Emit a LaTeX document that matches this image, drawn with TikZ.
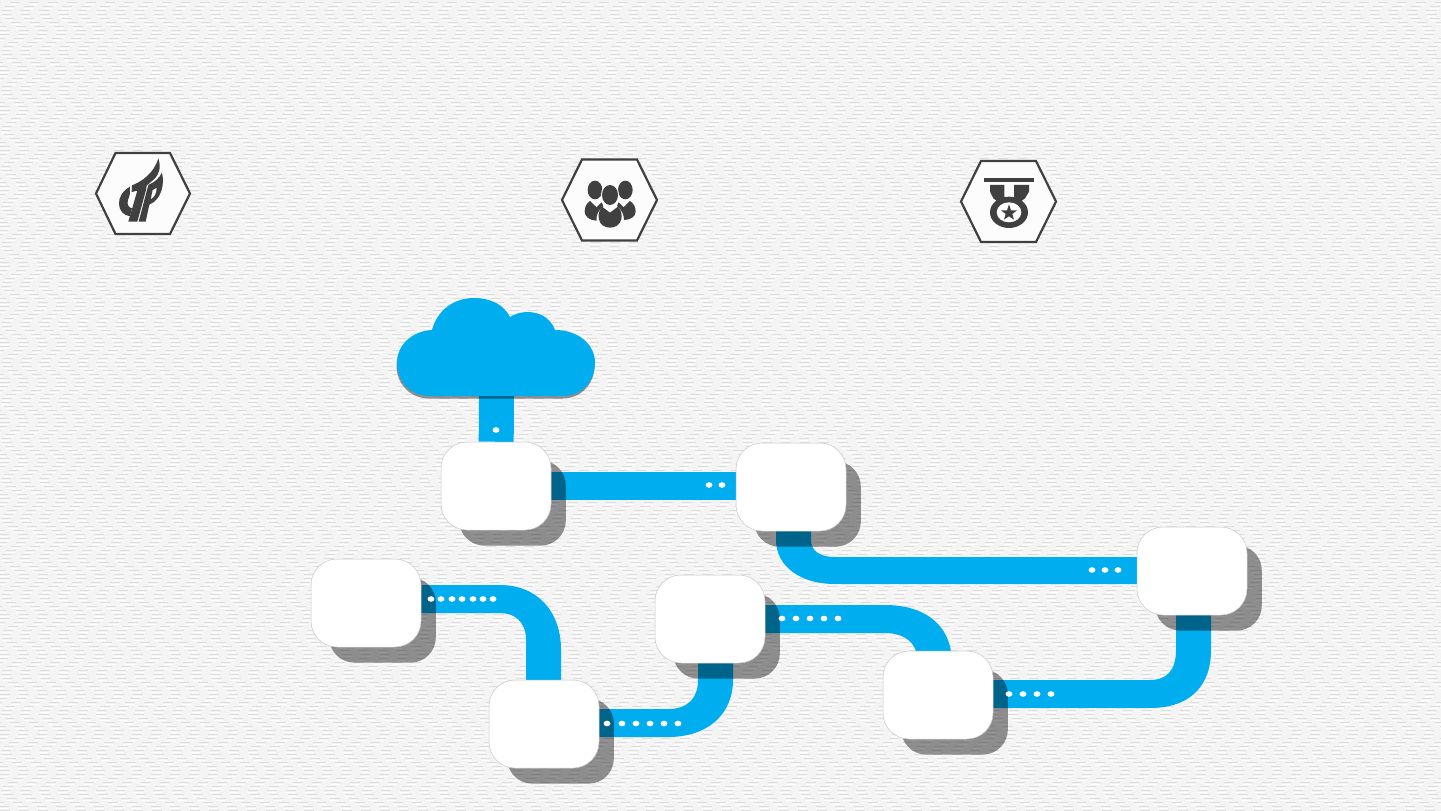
\documentclass[tikz,border=0pt]{standalone}
\usetikzlibrary{calc,shadows}
\pgfdeclarelayer{under}
\pgfsetlayers{under,main}
\definecolor{skyb}{HTML}{00AEEF}
\definecolor{inkd}{HTML}{404040}
\definecolor{paper}{HTML}{F4F4F4}
\definecolor{weave}{HTML}{DEDEDE}
\tikzset{
  x=1pt,y=-1pt,
  card/.style={draw=black!22,line width=.5pt,fill=white,rounded corners=26pt,minimum width=110pt,minimum height=88pt,inner sep=0pt,
    general shadow={shadow xshift=17pt,shadow yshift=-17.5pt,shadow scale=.97,fill=black,opacity=.42}},
  link/.style={draw=skyb,line width=28pt},
  linkfill/.style={fill=skyb},
  hexa/.style={draw=inkd,line width=2.2pt,fill=white!70!paper,line join=miter},
  ink/.style={fill=inkd},
  pip/.style={fill=white},
}
\newcommand{\pips}[2]{\foreach \px in {#2}{\fill[pip] (\px,#1) ellipse (3.4 and 2.8);}}
\begin{document}
\begin{tikzpicture}
\useasboundingbox (0,0) rectangle (1441,811);
\begin{pgfonlayer}{under}
\fill[paper] (0,0) rectangle (1441,811);
\foreach \r in {0,...,202}{
  \pgfmathsetmacro{\yy}{2+4*\r}
  \pgfmathsetmacro{\ph}{9+9*sin(\r*37)}
  \draw[weave,line width=.8pt,dash pattern=on 10pt off 9pt,dash phase=\ph pt] (0,\yy) -- (1441,\yy);
  \draw[white,line width=.8pt,dash pattern=on 9pt off 10pt,dash phase=\ph pt] (0,\yy+2) -- (1441,\yy+2);
}
\end{pgfonlayer}

% cards
\node[card] (A) at (496,486) {};
\node[card] (B) at (791,487) {};
\node[card] (C) at (1192,571) {};
\node[card] (D) at (366,603) {};
\node[card] (E) at (544,724) {};
\node[card] (F) at (710,619) {};
\node[card] (G) at (938,695) {};
\coordinate (cloud) at (496.5,380);

\begin{pgfonlayer}{under}
\draw[link,line width=35pt] (cloud) -- (A);
\draw[link] (A.east) -- (B.west |- A.east);
% B to C
\fill[linkfill] ($(B.south)+(-15,-6)$) -- (776,540) .. controls (776,566) and (800,584) .. (835,584)
  -- ($(C.west)+(6,13)$) -- ($(C.west)+(6,-14)$) -- (835,557)
  .. controls (820,557) and (811,551) .. (811,540) -- ($(B.south)+(20,-6)$) -- cycle;
% D to E
\fill[linkfill] ($(D.east)+(-6,-18)$) -- (500,585) .. controls (536,585) and (561,610) .. (561,650)
  -- ($(E.north)+(17,6)$) -- ($(E.north)+(-18,6)$) -- (526,640)
  .. controls (526,622) and (515,613) .. (500,613) -- ($(D.east)+(-6,10)$) -- cycle;
% E to F
\fill[linkfill] ($(E.east)+(-6,-15)$) -- (668,709) .. controls (688,709) and (698,698) .. (698,680)
  -- ($(F.south)+(-12,-6)$) -- ($(F.south)+(23,-6)$) -- (733,680)
  .. controls (733,714) and (708,737) .. (668,737) -- ($(E.east)+(-6,13)$) -- cycle;
% F to G
\fill[linkfill] ($(F.east)+(-6,-14)$) -- (885,605) .. controls (922,605) and (946,622) .. (951,651)
  -- ($(G.north)+(13,6)$) -- ($(G.north)+(-22,6)$) -- (916,651)
  .. controls (912,639) and (900,633) .. (885,633) -- ($(F.east)+(-6,14)$) -- cycle;
% G to C
\fill[linkfill] ($(G.east)+(-6,-15)$) -- (1150,680) .. controls (1167,680) and (1176,670) .. (1176,650)
  -- ($(C.south)+(-16,-6)$) -- ($(C.south)+(19,-6)$) -- (1211,650)
  .. controls (1211,686) and (1190,708) .. (1150,708) -- ($(G.east)+(-6,13)$) -- cycle;
\end{pgfonlayer}

% cloud
\def\cloudpath{(430,396) .. controls (410,396) and (397,381) .. (397,363)
  .. controls (397,345) and (412,331) .. (432,330)
  .. controls (437,311) and (453,298) .. (474,298)
  .. controls (491,298) and (504,305) .. (510,317)
  .. controls (522,309) and (547,309) .. (555,330)
  .. controls (578,330) and (595,344) .. (595,363)
  .. controls (595,382) and (581,396) .. (563,396) -- cycle}
\fill[black,opacity=.42,shift={(-.5,2.5)}] \cloudpath;
\fill[skyb] \cloudpath;

% pips
\pips{430}{496}
\pips{485}{709,722}
\pips{570}{1092,1105,1118}
\pips{599}{431,441,452,462,473,483,493}
\pips{723.5}{607,622,636,650,664,678}
\pips{618.5}{782,796,810,824,838}
\pips{694}{1009,1023,1037,1051}

% hexagon 1
\draw[hexa] (96,193.5) -- (115.5,153) -- (170,153) -- (190,193.5) -- (170,234) -- (115.5,234) -- cycle;
\begin{scope}[shift={(80,140)},x=.3333pt,y=-.3333pt]
% flame and T
\fill[ink] (235,55) .. controls (243,80) and (240,100) .. (222,118) .. controls (214,126) and (206,130) .. (200,137) -- (198,150) -- (172,245) -- (145,245) -- (172,152) -- (155,156) -- (156,136)
  .. controls (185,125) and (222,100) .. (235,55) -- cycle;
% P with flame lobe
\fill[ink,even odd rule] (206,134) .. controls (222,128) and (238,115) .. (246,98) .. controls (254,130) and (246,178) .. (208,194) -- (197,245) -- (176,245) -- (201,150) -- cycle
  (218,150) -- (212,178) .. controls (224,172) and (230,160) .. (230,143) -- cycle;
% C
\fill[ink] (150,140) .. controls (128,152) and (116,172) .. (117,192) .. controls (118,212) and (130,226) .. (150,229) -- (156,205) .. controls (145,203) and (140,192) .. (144,180) .. controls (146,172) and (150,165) .. (150,160) -- cycle;
\end{scope}

% hexagon 2
\draw[hexa] (562,200) -- (582,159.5) -- (637,159.5) -- (657,200) -- (637,240.5) -- (582,240.5) -- cycle;
\begin{scope}[shift={(550,150)},x=.3333pt,y=-.3333pt]
\fill[ink] (135,120) ellipse (22 and 28);
\fill[ink] (226,120) ellipse (22 and 28);
\fill[ink] (120,153) -- (140,172) -- (155,157) -- (160,168) .. controls (145,180) and (138,195) .. (140,212) .. controls (120,212) and (104,200) .. (104,185) .. controls (104,170) and (110,160) .. (120,153) -- cycle;
\fill[ink] (240,153) -- (221,172) -- (206,157) -- (201,168) .. controls (216,180) and (222,195) .. (222,210) .. controls (240,210) and (257,200) .. (257,185) .. controls (257,170) and (250,160) .. (240,153) -- cycle;
\fill[white] (180,135) ellipse (27 and 33);
\fill[ink] (180,135) ellipse (24 and 30);
\fill[ink] (156,170) -- (180,188) -- (204,170) .. controls (215,182) and (216,195) .. (214,208) .. controls (210,225) and (195,233) .. (180,233) .. controls (165,233) and (150,225) .. (147,208) .. controls (144,195) and (146,182) .. (156,170) -- cycle;
\end{scope}

% hexagon 3
\draw[hexa] (961,201.5) -- (981,161) -- (1036,161) -- (1056,201.5) -- (1036,242) -- (981,242) -- cycle;
\begin{scope}[shift={(950,150)},x=.3333pt,y=-.3333pt]
\fill[ink] (102,83) rectangle (253,97);
\fill[ink] (120,105) -- (163,105) -- (163,140) -- (150,160) -- (130,145) -- (120,125) -- cycle;
\fill[ink] (237,105) -- (192,105) -- (192,140) -- (205,160) -- (225,145) -- (237,125) -- cycle;
\fill[ink] (177,187) ellipse (57 and 47);
\fill[white] (177,187) ellipse (37 and 30);
\fill[ink] (177,163) -- (183,181) -- (201,181) -- (187,192) -- (192,209) -- (177,199) -- (162,209) -- (167,192) -- (153,181) -- (171,181) -- cycle;
\end{scope}
\end{tikzpicture}
\end{document}
